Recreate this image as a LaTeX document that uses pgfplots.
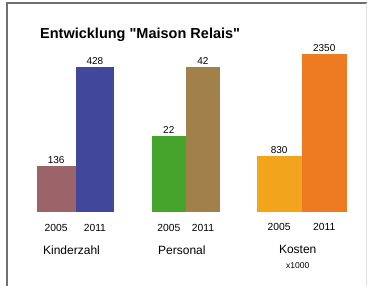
\documentclass[border=0pt]{standalone}
\usepackage{pgfplots}
\pgfplotsset{compat=1.18}
\usepackage{fontspec}
\setmainfont{Liberation Sans}
\newfontfamily\titlefont[Ligatures=TeXOff]{Liberation Sans}
\definecolor{kA}{HTML}{9A6468}
\definecolor{kB}{HTML}{41479B}
\definecolor{pA}{HTML}{44A42C}
\definecolor{pB}{HTML}{A2804A}
\definecolor{cA}{HTML}{F2A51C}
\definecolor{cB}{HTML}{EE7A22}
\definecolor{frame}{HTML}{707070}
\pgfplotsset{grp/.style={
  scale only axis, ybar, bar width=1, bar shift=0pt,
  ymin=0, xmin=-0.5, xmax=1.5,
  axis y line=none, axis x line*=bottom, x axis line style={draw=none},
  major tick length=0pt, xtick={0,1}, xticklabels={2005,2011},
  xticklabel style={font=\fontsize{10.3}{12}\selectfont, yshift=-8pt},
  xlabel style={font=\fontsize{12}{14}\selectfont, align=center,
    at={(axis description cs:0.5,0)}, anchor=north, inner sep=0pt, yshift=-33pt, xshift=-4pt},
  nodes near coords,
  every node near coord/.append style={font=\fontsize{10}{12}\selectfont, inner sep=2pt, black},
  /pgf/number format/1000 sep={}, /pgf/number format/assume math mode=true,
  clip=false, anchor=south west,
}}
\begin{document}
\begin{tikzpicture}
\fill[white] (0,0) rectangle (367pt,286pt);
\path[use as bounding box] (0,0) rectangle (367pt,286pt);
\draw[frame, line width=1.6pt] (7pt,0pt) -- (7pt,283pt) -- (367pt,283pt);
\draw[black!12, line width=0.8pt] (366.3pt,0pt) -- (366.3pt,283pt);
\node[anchor=base west, inner sep=0pt, font=\titlefont\fontsize{14.5}{17}\selectfont\bfseries] at (40pt,247.8pt) {Entwicklung "Maison Relais"};

\begin{axis}[grp, at={(36.7pt,73.5pt)}, width=77.6pt, height=145.8pt, ymax=428, xlabel={Kinderzahl}]
\addplot[fill=kA, draw=none] coordinates {(0,136)};
\addplot[fill=kB, draw=none] coordinates {(1,428)};
\end{axis}

\begin{axis}[grp, at={(151.7pt,73.5pt)}, width=68.3pt, height=145.8pt, ymax=42, xlabel={Personal}]
\addplot[fill=pA, draw=none] coordinates {(0,22)};
\addplot[fill=pB, draw=none] coordinates {(1,42)};
\end{axis}

\begin{axis}[grp, at={(256.7pt,74pt)}, width=90pt, height=158pt, ymax=2350, xlabel={Kosten\\[1pt]{\fontsize{8.5}{10}\selectfont x1000}}]
\addplot[fill=cA, draw=none] coordinates {(0,830)};
\addplot[fill=cB, draw=none] coordinates {(1,2350)};
\end{axis}
\end{tikzpicture}
\end{document}
